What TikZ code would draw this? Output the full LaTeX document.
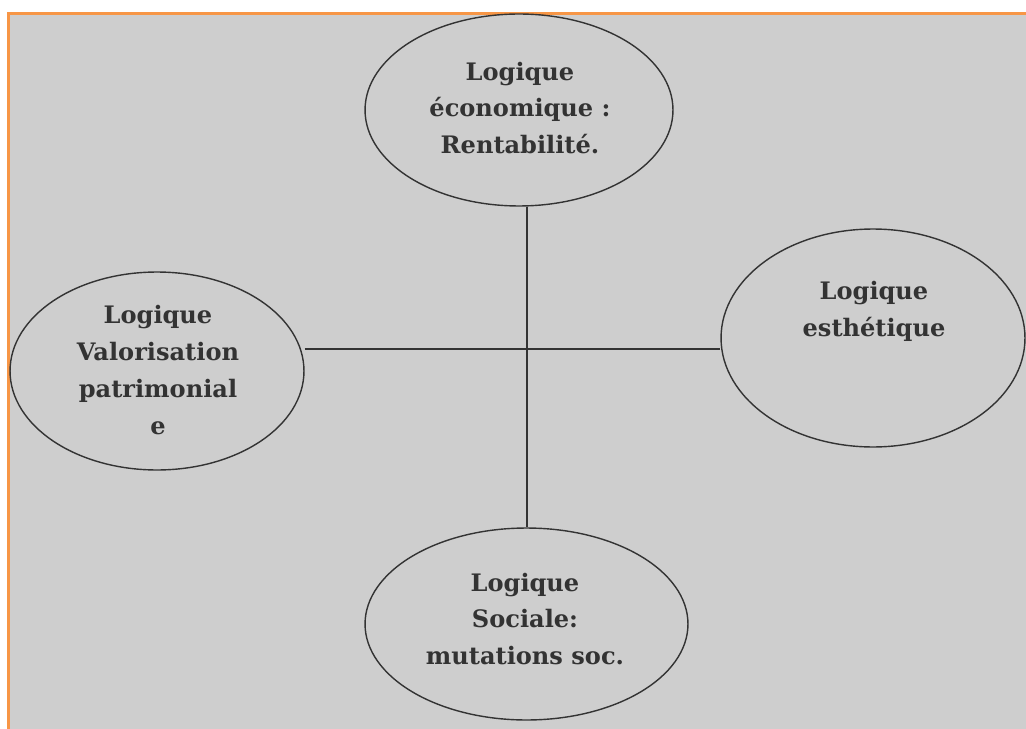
\documentclass[tikz,border=0pt]{standalone}
\usepackage{fontspec}
\setmainfont{DejaVu Serif}
\usepackage{tikz}
\usetikzlibrary{shapes, shapes.geometric, positioning, calc}

\definecolor{fondgris}{RGB}{206,206,206}
\definecolor{orangecadre}{RGB}{247,150,70}
\definecolor{trait}{RGB}{51,51,51}

\begin{document}
\begin{tikzpicture}[x=0.02cm, y=-0.02cm]
\tikzset{bulle/.style={draw=trait, line width=0.8pt, ellipse, inner sep=0pt, fill=fondgris},
         texte/.style={align=center, inner sep=0pt, text=trait, font=\bfseries\fontsize{13.7}{21}\selectfont},
         lien/.style={draw=trait, line width=0.8pt}}
\useasboundingbox (0,0) rectangle (1026,729);
\fill[fondgris] (8,13) rectangle (1026,729);
\draw[orangecadre, line width=1.7pt] (8.5,729) -- (8.5,13.5) -- (1026,13.5);
\node[bulle, minimum width=6.16cm, minimum height=3.84cm] (eco) at (519,110) {};
\node[bulle, minimum width=5.88cm, minimum height=3.96cm] (patri) at (157,371) {};
\node[bulle, minimum width=6.08cm, minimum height=4.36cm] (esth) at (873,338) {};
\node[bulle, minimum width=6.46cm, minimum height=3.84cm] (soc) at (526.5,624) {};
\coordinate (croix) at (527,349);
\draw[lien] (croix |- eco.south) -- (croix |- soc.north);
\draw[lien] (croix -| patri.east) -- (croix -| esth.west);
\node[texte] (ecoTxt) at (520,108) {Logique\\économique :\\Rentabilité.};
\node[texte] (patriTxt) at (158,370) {Logique\\Valorisation\\patrimonial\\e};
\node[texte] (esthTxt) at (874,311) {Logique\\esthétique};
\node[texte] (socTxt) at (525,619) {Logique\\Sociale:\\mutations soc.};
\end{tikzpicture}
\end{document}
